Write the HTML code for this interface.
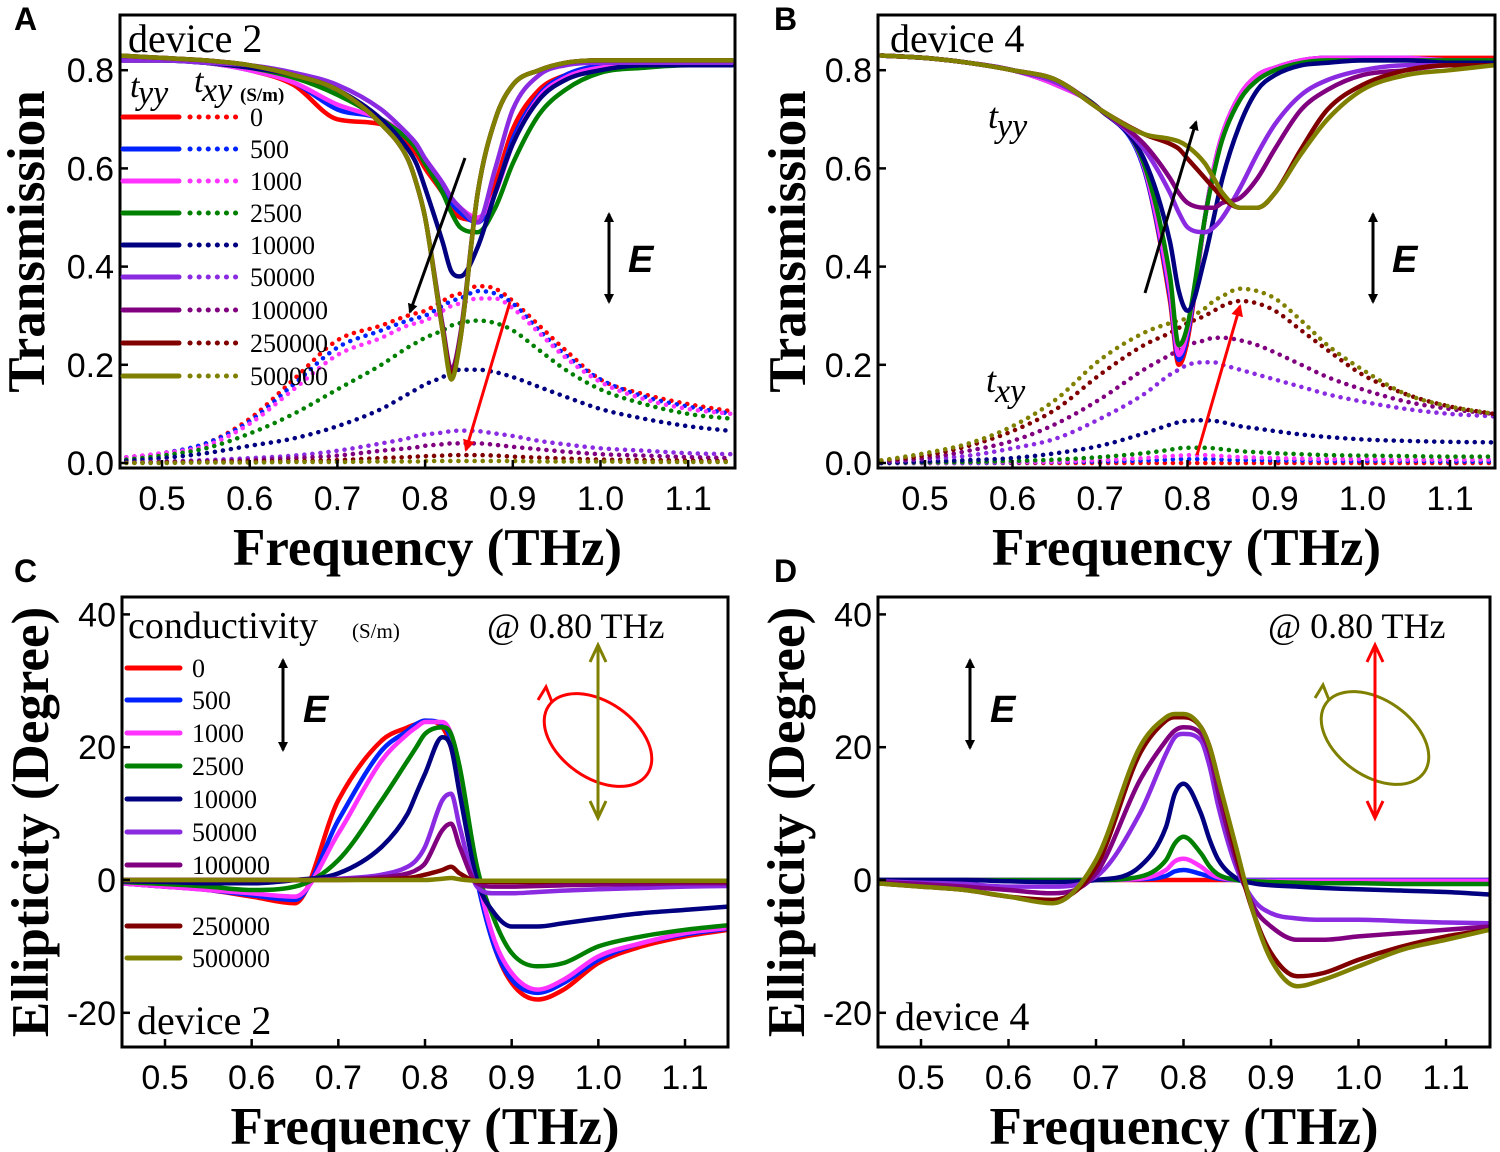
<!DOCTYPE html>
<html><head><meta charset="utf-8">
<style>
html,body{margin:0;padding:0;background:#fff;}
svg{display:block;}
.tk{font-family:"Liberation Sans",sans-serif;font-size:34px;fill:#000;}
.ttl{font-family:"Liberation Serif",serif;font-weight:bold;font-size:53px;fill:#000;}
.ser{font-family:"Liberation Serif",serif;fill:#000;}
</style></head>
<body>
<svg id="fig" width="1500" height="1152" viewBox="0 0 1500 1152" xmlns="http://www.w3.org/2000/svg">
<defs>
<marker id="ahK" markerWidth="10" markerHeight="10" refX="8" refY="5" orient="auto" markerUnits="userSpaceOnUse"><path d="M0,0 L10,5 L0,10 z" fill="#000"/></marker>
<marker id="ahR" markerWidth="12" markerHeight="12" refX="10" refY="6" orient="auto" markerUnits="userSpaceOnUse"><path d="M0,0 L12,6 L0,12 z" fill="#f00"/></marker>
</defs>
</svg>
<script>
// ---------- DATA ----------
const freq = [0.45,0.5,0.55,0.6,0.65,0.7,0.75,0.78,0.79,0.8,0.82,0.83,0.84,0.86,0.88,0.9,0.93,0.96,1.0,1.05,1.1,1.15];
const conductivities = ["0","500","1000","2500","10000","50000","100000","250000","500000"];
const colors = ["#ff0000","#0022ff","#ff33ff","#008000","#000080","#8a2be2","#800080","#800000","#808000"];
const xTicks = [0.5,0.6,0.7,0.8,0.9,1.0,1.1];
const xTickLabels = ["0.5","0.6","0.7","0.8","0.9","1.0","1.1"];
const tTicks = [0,0.2,0.4,0.6,0.8];
const tTickLabels = ["0.0","0.2","0.4","0.6","0.8"];
const eTicks = [-20,0,20,40];
const eTickLabels = ["-20","0","20","40"];

const A_tyy = [
[.82,.82,.815,.80,.77,.70,.69,.65,.63,.60,.55,.52,.50,.495,.57,.68,.76,.79,.81,.815,.815,.815],
[.82,.82,.815,.80,.775,.72,.70,.66,.64,.61,.56,.53,.51,.49,.55,.66,.75,.79,.81,.815,.815,.815],
[.82,.82,.815,.80,.775,.73,.70,.665,.645,.62,.57,.54,.52,.50,.55,.65,.745,.785,.805,.81,.815,.815],
[.82,.82,.815,.805,.785,.75,.70,.66,.64,.61,.55,.51,.48,.47,.52,.61,.71,.76,.795,.805,.81,.81],
[.82,.82,.815,.805,.79,.76,.70,.64,.61,.56,.45,.39,.38,.44,.55,.65,.74,.78,.80,.81,.81,.81],
[.82,.82,.815,.81,.795,.77,.72,.67,.65,.62,.57,.54,.52,.49,.60,.72,.79,.81,.815,.815,.815,.815],
[.83,.825,.82,.81,.79,.76,.69,.62,.57,.50,.28,.19,.26,.55,.70,.77,.80,.815,.82,.82,.82,.82],
[.83,.825,.82,.81,.79,.76,.69,.62,.57,.50,.27,.18,.25,.55,.70,.77,.80,.815,.82,.82,.82,.82],
[.83,.825,.82,.81,.79,.76,.69,.62,.57,.50,.27,.17,.25,.55,.70,.77,.80,.815,.82,.82,.82,.82]];
const A_txy = [
[.01,.02,.04,.09,.17,.25,.28,.30,.305,.31,.33,.34,.345,.36,.355,.33,.28,.23,.17,.14,.12,.105],
[.01,.02,.04,.085,.16,.235,.27,.29,.295,.30,.32,.33,.335,.35,.345,.325,.27,.22,.17,.135,.115,.10],
[.01,.02,.035,.08,.15,.22,.255,.28,.285,.29,.31,.32,.325,.335,.335,.315,.265,.215,.165,.13,.11,.10],
[.005,.015,.03,.06,.10,.15,.20,.235,.245,.255,.27,.28,.285,.29,.285,.27,.23,.19,.15,.12,.10,.09],
[.003,.01,.02,.035,.05,.075,.11,.14,.15,.16,.175,.185,.19,.19,.185,.175,.155,.135,.11,.09,.075,.065],
[0,.003,.006,.01,.015,.025,.04,.05,.055,.058,.062,.065,.066,.065,.06,.055,.045,.038,.03,.025,.02,.018],
[0,.002,.004,.006,.01,.015,.025,.03,.032,.035,.038,.04,.04,.04,.037,.033,.028,.023,.018,.015,.012,.01],
[0,.001,.002,.003,.004,.006,.01,.012,.013,.014,.015,.016,.016,.016,.015,.013,.011,.009,.007,.006,.005,.004],
[0,0,.001,.001,.002,.002,.003,.003,.003,.004,.004,.004,.004,.004,.004,.004,.003,.003,.003,.002,.002,.002]];
const B_tyy = [
[.83,.825,.815,.80,.77,.72,.60,.33,.20,.25,.50,.60,.67,.75,.79,.805,.82,.825,.825,.825,.825,.825],
[.83,.825,.815,.80,.77,.72,.60,.34,.21,.26,.50,.60,.67,.75,.79,.805,.82,.825,.825,.825,.82,.82],
[.83,.825,.815,.80,.77,.72,.605,.35,.22,.27,.50,.60,.67,.75,.79,.805,.82,.825,.825,.825,.82,.82],
[.83,.825,.815,.80,.775,.72,.61,.38,.24,.28,.50,.59,.66,.74,.78,.80,.815,.82,.82,.82,.82,.82],
[.83,.825,.815,.80,.775,.72,.62,.45,.35,.31,.42,.50,.58,.69,.76,.79,.81,.815,.82,.82,.815,.815],
[.83,.825,.815,.80,.775,.72,.64,.55,.51,.48,.47,.48,.50,.56,.63,.69,.75,.78,.80,.81,.81,.81],
[.83,.825,.815,.80,.78,.72,.65,.58,.55,.53,.52,.52,.53,.54,.58,.64,.72,.76,.79,.80,.81,.81],
[.83,.825,.815,.80,.78,.72,.67,.65,.64,.62,.58,.56,.54,.52,.52,.55,.64,.72,.77,.80,.81,.81],
[.83,.825,.815,.80,.78,.72,.67,.66,.655,.645,.61,.58,.55,.52,.52,.55,.63,.70,.76,.79,.80,.81]];
const B_txy = [
[0,0,0,0,0,0,0,0,0,0,0,0,0,0,0,0,0,0,0,0,0,0],
[0,0,0,.001,.002,.003,.005,.007,.008,.008,.008,.008,.007,.006,.006,.005,.005,.004,.004,.004,.003,.003],
[0,0,.001,.002,.003,.006,.01,.014,.015,.016,.016,.015,.014,.012,.011,.01,.009,.008,.008,.007,.007,.007],
[0,.001,.002,.004,.007,.012,.02,.027,.03,.031,.031,.03,.028,.024,.022,.02,.018,.016,.015,.014,.013,.013],
[0,.003,.006,.01,.02,.035,.06,.078,.083,.086,.087,.086,.083,.075,.07,.065,.058,.053,.048,.045,.043,.042],
[.002,.008,.015,.03,.05,.09,.14,.18,.19,.20,.205,.205,.20,.19,.18,.17,.155,.14,.125,.11,.10,.095],
[.003,.01,.025,.045,.08,.13,.19,.22,.23,.24,.25,.255,.255,.25,.24,.225,.20,.175,.15,.125,.11,.10],
[.005,.015,.035,.065,.11,.18,.24,.265,.275,.285,.30,.31,.32,.33,.325,.31,.27,.23,.18,.14,.115,.10],
[.005,.02,.04,.075,.13,.21,.265,.285,.29,.295,.315,.33,.34,.355,.35,.335,.29,.24,.19,.14,.115,.10]];
const C_ell = [
[-.5,-1,-1.5,-2.5,-3.5,12,21,23,23.5,24,23,20,14,0,-10,-15.5,-18,-16.5,-12.5,-10,-8.5,-7.5],
[-.5,-1,-1.5,-2.3,-3,9,19.5,22.5,23.5,24,23.5,21,15,0,-10,-15,-17,-15.5,-12,-9.5,-8.2,-7.3],
[-.5,-1,-1.5,-2,-2.5,7,18,22,23,23.8,23.8,22,16,1,-9,-14,-16.5,-15,-11.5,-9.5,-8,-7.2],
[-.3,-.6,-1,-1.5,-1,3,12,18,20,22,23,22,17,2,-6,-11,-13,-12.5,-10,-8.5,-7.5,-6.8],
[-.2,-.3,-.5,-.5,0,1,5,10,13,16,21.5,20,13,0,-5,-7,-7,-6.5,-5.8,-5,-4.5,-4],
[0,0,0,0,0,.2,.8,2,3,5,12,13,8,-1,-2,-2,-1.8,-1.6,-1.4,-1.2,-1,-.9],
[0,0,0,0,0,.1,.4,1,1.5,2.5,7.5,8.5,5,-.5,-1,-1,-.9,-.8,-.7,-.6,-.5,-.5],
[0,0,0,0,0,0,.1,.3,.5,.8,1.5,2,1,-.2,-.3,-.3,-.3,-.2,-.2,-.2,-.2,-.2],
[0,0,0,0,0,0,0,0,0,0,.2,.3,.1,-.1,-.1,-.1,-.1,-.1,-.1,-.1,-.1,-.1]];
const D_ell = [
[0,0,0,0,0,0,0,0,0,0,0,0,0,0,0,0,0,0,0,0,0,0],
[0,0,0,0,0,0,.1,.6,1.3,1.5,.9,.5,.2,0,0,0,0,0,0,0,0,0],
[0,0,0,0,0,0,.2,1.5,2.8,3.2,2,1,.4,0,-.1,-.1,-.1,-.1,-.1,-.1,-.1,-.1],
[0,0,0,0,0,0,.5,3,5.5,6.5,4,2,.8,0,-.2,-.3,-.4,-.5,-.5,-.6,-.6,-.6],
[0,0,0,-.2,-.3,0,2,8,13,14.5,10,6,3,.3,-.5,-.8,-1,-1.2,-1.4,-1.6,-1.8,-2.2],
[-.2,-.4,-.6,-1,-1,.5,10,19,21.5,22,21,17,11,2,-3,-5,-5.8,-6,-6,-6.2,-6.4,-6.5],
[-.3,-.6,-1,-1.5,-2,1,15,21,22.5,23,22,19,13,3,-4,-7,-9,-9,-8.5,-8,-7.5,-7],
[-.5,-1,-1.5,-2.5,-3,2,19,24,24.5,24.5,23,20,15,4,-5,-11,-14.5,-14,-12,-10,-8.5,-7.5],
[-.5,-1,-1.5,-2.5,-3.5,3,20,24.5,25,25,23,20,15,5,-5,-12,-16,-15,-13,-10.5,-9,-7.5]];

// ---------- DRAW ----------
const NS="http://www.w3.org/2000/svg";
const svg=document.getElementById('fig');
function mk(tag,attrs,parent){const e=document.createElementNS(NS,tag);for(const k in attrs)e.setAttribute(k,attrs[k]);(parent||svg).appendChild(e);return e;}
function monoPath(px,py){
  const n=px.length,d=[],m=[];
  for(let i=0;i<n-1;i++)d.push((py[i+1]-py[i])/(px[i+1]-px[i]));
  m[0]=d[0];m[n-1]=d[n-2];
  for(let i=1;i<n-1;i++){m[i]=(d[i-1]*d[i]<=0)?0:(d[i-1]+d[i])/2;}
  for(let i=0;i<n-1;i++){if(d[i]===0){m[i]=0;m[i+1]=0;continue;}
    const a=m[i]/d[i],b=m[i+1]/d[i],s=a*a+b*b;if(s>9){const t=3/Math.sqrt(s);m[i]=t*a*d[i];m[i+1]=t*b*d[i];}}
  let s="M"+px[0].toFixed(1)+","+py[0].toFixed(1);
  for(let i=0;i<n-1;i++){const h=(px[i+1]-px[i])/3;
    s+=" C"+(px[i]+h).toFixed(1)+","+(py[i]+m[i]*h).toFixed(1)+" "+(px[i+1]-h).toFixed(1)+","+(py[i+1]-m[i+1]*h).toFixed(1)+" "+px[i+1].toFixed(1)+","+py[i+1].toFixed(1);}
  return s;
}
function panel(cfg){
  const g=mk('g',{});
  
  
  const X=f=>cfg.xa+(f-0.5)*cfg.kx, Y=v=>cfg.y0-v*cfg.ky;
  const cid='clip'+cfg.name;
  const cp=mk('clipPath',{id:cid},g);mk('rect',{x:cfg.L,y:cfg.T,width:cfg.R-cfg.L,height:cfg.B-cfg.T},cp);
  const pg=mk('g',{'clip-path':'url(#'+cid+')'},g);
  const draw=(arr,dotted,nm)=>arr.forEach((ys,i)=>{
    const p=mk('path',{d:monoPath(freq.map(X),ys.map(Y)),fill:'none',stroke:colors[i],'stroke-width':4.5,'stroke-linecap':'round','stroke-linejoin':'round'},pg);
    if(dotted)p.setAttribute('stroke-dasharray','0.1 8');
    
    
  });
  if(cfg.dotted)draw(cfg.dotted,true,'txy-curve');
  draw(cfg.solid,false,cfg.solidName);
  const fr=mk('rect',{x:cfg.L,y:cfg.T,width:cfg.R-cfg.L,height:cfg.B-cfg.T,fill:'none',stroke:'#000','stroke-width':3},g);
  
  
  xTicks.forEach((t,i)=>{
    mk('line',{x1:X(t),x2:X(t),y1:cfg.B,y2:cfg.B-8,stroke:'#000','stroke-width':2.5},g);
    const tx=mk('text',{x:X(t),y:cfg.B+42,'text-anchor':'middle',class:'tk'},g);tx.textContent=xTickLabels[i];
    
    
  });
  cfg.yt.forEach((t,i)=>{
    mk('line',{x1:cfg.L,x2:cfg.L+8,y1:Y(t),y2:Y(t),stroke:'#000','stroke-width':2.5},g);
    const tx=mk('text',{x:cfg.L-6,y:Y(t)+12,'text-anchor':'end',class:'tk'},g);tx.textContent=cfg.ytl[i];
    
    
  });
  const xt=mk('text',{x:(cfg.L+cfg.R)/2,y:cfg.B+97,'text-anchor':'middle',class:'ttl'},g);xt.textContent='Frequency (THz)';
  
  
  const yt=mk('text',{x:0,y:0,'text-anchor':'middle',class:'ttl',transform:'translate('+cfg.ytx+','+((cfg.T+cfg.B)/2)+') rotate(-90)'},g);yt.textContent=cfg.ytitle;
  
  
  const lt=mk('text',{x:cfg.letter[0],y:cfg.letter[1],style:'font-family:"Liberation Sans",sans-serif;font-weight:bold;font-size:32px'},g);lt.textContent=cfg.lt;
  
  
}
panel({name:'panel-a',lt:'A',letter:[14,30],xa:162,kx:877,y0:463,ky:491,L:120,R:735,T:15,B:468,yt:tTicks,ytl:tTickLabels,ytitle:'Transmission',ytx:44,solid:A_tyy,dotted:A_txy,solidName:'tyy-curve'});
panel({name:'panel-b',lt:'B',letter:[774,30],xa:925,kx:875,y0:463,ky:491,L:878,R:1495,T:15,B:468,yt:tTicks,ytl:tTickLabels,ytitle:'Transmission',ytx:805,solid:B_tyy,dotted:B_txy,solidName:'tyy-curve'});
panel({name:'panel-c',lt:'C',letter:[14,582],xa:165,kx:866.7,y0:880,ky:6.64,L:122,R:728,T:597,B:1047,yt:eTicks,ytl:eTickLabels,ytitle:'Ellipticity (Degree)',ytx:48,solid:C_ell,solidName:'ellipticity-curve'});
panel({name:'panel-d',lt:'D',letter:[774,582],xa:921,kx:875,y0:880,ky:6.64,L:878,R:1490,T:597,B:1047,yt:eTicks,ytl:eTickLabels,ytitle:'Ellipticity (Degree)',ytx:804,solid:D_ell,solidName:'ellipticity-curve'});

function txt(x,y,s,size,name,extra){const t=mk('text',Object.assign({x:x,y:y,class:'ser','font-size':size},extra||{}));t.textContent=s;
  
  return t;}
// Panel A annotations
txt(128,52,'device 2',40,'device-label');
txt(130,97,'t',34,'tyy-header',{'font-style':'italic'});txt(138,104,'yy',34,'tyy-sub',{'font-style':'italic'});
txt(194,92,'t',34,'txy-header',{'font-style':'italic'});txt(202,101,'xy',34,'txy-sub',{'font-style':'italic'});
txt(240,101,'(S/m)',19,'unit-label',{'font-weight':'bold'});
const rowA=[117,149,181,213,245,277,310,343,376];
conductivities.forEach((c,i)=>{
  const l=mk('line',{x1:123,x2:179,y1:rowA[i],y2:rowA[i],stroke:colors[i],'stroke-width':5,'stroke-linecap':'round'});
  
  
  const d=mk('line',{x1:190,x2:244,y1:rowA[i],y2:rowA[i],stroke:colors[i],'stroke-width':5,'stroke-linecap':'round','stroke-dasharray':'0.1 9'});
  
  
  txt(250,rowA[i]+9,c,26,'legend-label');
});
function arrow(x1,y1,x2,y2,col,name){const a=mk('line',{x1:x1,y1:y1,x2:x2,y2:y2,stroke:col,'stroke-width':3,'marker-end':col==='#000'?'url(#ahK)':'url(#ahR)'});
  
  }
arrow(465,158,410,312,'#000','trend-arrow-tyy');
arrow(510,302,466,450,'#f00','trend-arrow-txy');
function eArrow(x,y1,y2,tx,ty,name){
  arrow(x,(y1+y2)/2,x,y1,'#000',name+'-up');arrow(x,(y1+y2)/2,x,y2,'#000',name+'-down');
  const t=mk('text',{x:tx,y:ty,style:'font-family:"Liberation Sans",sans-serif;font-weight:bold;font-style:italic;font-size:38px'});t.textContent='E';
  
  }
eArrow(609,214,302,628,272,'e-field-arrow');
// Panel B
txt(890,52,'device 4',40,'device-label');
txt(988,128,'t',36,'tyy-label',{'font-style':'italic'});txt(997,137,'yy',34,'tyy-sub',{'font-style':'italic'});
txt(986,392,'t',36,'txy-label',{'font-style':'italic'});txt(995,402,'xy',34,'txy-sub',{'font-style':'italic'});
arrow(1145,293,1196,122,'#000','trend-arrow-tyy');
arrow(1197,455,1240,306,'#f00','trend-arrow-txy');
eArrow(1373,214,302,1392,272,'e-field-arrow');
// Panel C
txt(128,638,'conductivity',38,'legend-title');txt(352,638,'(S/m)',21,'legend-unit');
txt(487,638,'@ 0.80 THz',36,'frequency-note');
const rowC=[668,700,733,766,799,832,865,926,958];
conductivities.forEach((c,i)=>{
  const l=mk('line',{x1:127,x2:180,y1:rowC[i],y2:rowC[i],stroke:colors[i],'stroke-width':5,'stroke-linecap':'round'});
  
  
  txt(192,rowC[i]+9,c,26,'legend-label');
});
eArrow(283,660,750,303,722,'e-field-arrow');
txt(137,1034,'device 2',40,'device-label');
function polar(cx,cy,ecol,acol,name){
  const e=mk('ellipse',{cx:cx,cy:cy,rx:60,ry:38,transform:'rotate(35 '+cx+' '+cy+')',fill:'none',stroke:ecol,'stroke-width':3});
  
  
  const h=mk('path',{d:'M'+(cx-60)+','+(cy-40)+' l8,-13 l6,15',fill:'none',stroke:ecol,'stroke-width':3});
  
  
  const l=mk('line',{x1:cx,y1:647,x2:cx,y2:816,stroke:acol,'stroke-width':3});
  
  
  const p=mk('path',{d:'M'+(cx-8)+',662 L'+cx+',645 L'+(cx+8)+',662 M'+(cx-8)+',801 L'+cx+',818 L'+(cx+8)+',801',fill:'none',stroke:acol,'stroke-width':3});
  
  
}
polar(598,740,'#f00','#808000','polarization-c');
// Panel D
txt(1268,638,'@ 0.80 THz',36,'frequency-note');
eArrow(970,660,748,990,722,'e-field-arrow');
txt(895,1030,'device 4',40,'device-label');
polar(1375,738,'#808000','#f00','polarization-d');
</script>
</body></html>
